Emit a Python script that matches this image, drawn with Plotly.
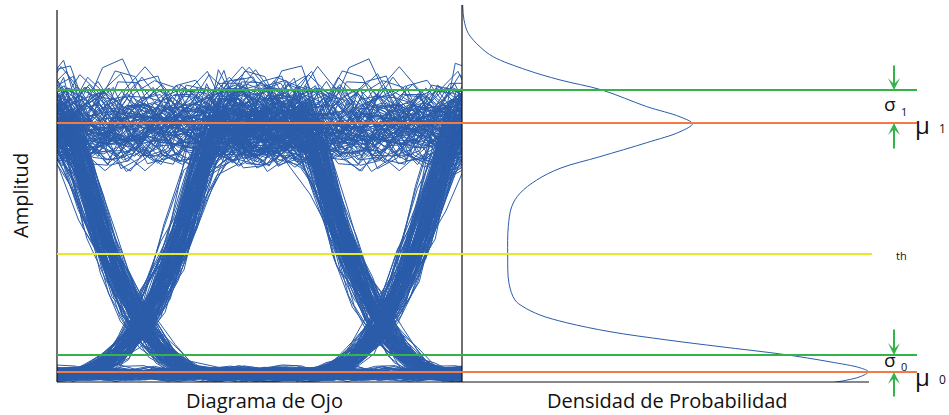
import numpy as np
import plotly.graph_objects as go

# ---------------------------------------------------------------------------
# Data
# ---------------------------------------------------------------------------
# Bit stream that is folded into the eye (one window per unit interval)
bit_stream = [1, 0, 1, 1, 0, 0, 1, 0, 1, 1, 1, 0, 0, 0, 1, 0,
              0, 1, 1, 0, 1, 0, 1, 1, 1, 1, 0, 0, 1, 0, 0, 0,
              1, 1, 0, 1, 1, 0, 0, 1, 0, 1, 0, 0, 1, 1, 1, 0,
              1, 0, 0, 1, 1, 0, 1, 1, 1, 0, 0, 0, 1, 1, 0, 1]

# Recorded amplitude-noise samples (unit variance), two interleaved tables
noise_a = [0.42, 1.13, 0.87, -0.25, -1.61, -0.78, 0.05, 2.75, 0.66, -1.24,
           -0.51, -0.09, 3.05, 1.37, 0.33, -0.64, -0.98, -2.05, 0.17, 1.45,
           0.88, -0.71, 0.34, -1.58, -1.02, 0.26, 0.15, 1.83, -1.06, -0.59,
           -0.47, 0.72, 1.19, -2.44, -0.38, 0.91, 0.21]
noise_b = [-0.57, -1.34, 0.12, 0.83, 1.71, 0.29, -2.08, -0.95, 0.36, 0.61,
           -1.24, -1.57, 0.14, 0.68, -2.19, 0.76, 0.47, 0.03, 1.09, -1.46,
           -0.22, -0.81, 1.88, 0.27, -0.54, -1.03, 0.44, 3.20, 0.19, -0.93,
           -1.62, 0.35, 0.74, 1.21, -0.08, -0.69, -1.29, 0.11, 0.53, 1.47,
           -0.99]
# Recorded edge timing jitter (unit variance)
edge_jitter = [0.31, -0.84, 0.12, 1.06, -0.47, 0.73, -1.21, 0.05, 0.58, -0.26,
               -0.93, 1.38, -0.15, 0.44, -0.69, 0.88, -1.52, 0.21, 0.97]
# Sampling phase of each captured window (fraction of a sample period)
window_phase = [0.00, 0.55, 0.27, 0.81, 0.13, 0.68, 0.39, 0.94, 0.21, 0.62,
                0.05, 0.47, 0.88, 0.33, 0.74, 0.16, 0.59, 0.97, 0.42, 0.08,
                0.71, 0.29, 0.85]

# Decision statistics (normalised amplitude)
mu1 = 1.0
sigma1 = 0.1325
mu0 = 0.0
sigma0 = 0.068
threshold = 0.474

# Probability density of the received amplitude
density_amp = [1.474, 1.414, 1.360, 1.306, 1.266, 1.213, 1.173, 1.133, 1.066,
               1.025, 0.997, 0.965, 0.921, 0.865, 0.818, 0.771, 0.718, 0.664,
               0.584, 0.470, 0.356, 0.289, 0.262, 0.229, 0.198, 0.162, 0.129,
               0.102, 0.071, 0.041, 0.017, 0.001, -0.019, -0.041]
density_val = [0.007, 0.02, 0.063, 0.18, 0.313, 0.647, 0.98, 1.397, 1.847,
               2.18, 2.303, 2.18, 1.847, 1.38, 0.98, 0.747, 0.58, 0.497,
               0.463, 0.457, 0.47, 0.53, 0.613, 0.78, 1.047, 1.48, 2.047,
               2.58, 3.213, 3.68, 3.98, 4.063, 3.98, 3.73]

# Text
y_title = "Amplitud"
eye_title = "Diagrama de Ojo"
pdf_title = "Densidad de Probabilidad"

# ---------------------------------------------------------------------------
# Eye diagram: overlay of consecutive windows of the received waveform
# ---------------------------------------------------------------------------
SPU = 12          # samples per unit interval
N_WIN = 400       # number of overlaid windows
T_EDGE = 0.60     # edge duration (UI)
SIG_S = 0.056     # field noise scale
SIG_M = 0.020     # additive detector noise scale
SIG_J = 0.025     # timing jitter (UI)
EXPO = 2.3        # detector law

na = np.array(noise_a)
nb = np.array(noise_b)
nj = np.array(edge_jitter)
nbits = len(bit_stream)
k = np.arange(-6, 18)

# noise stream, lightly low-pass filtered (receiver bandwidth)
G0 = -10
G = np.arange(G0, N_WIN * SPU + 600)
z = (na[G % len(na)] + nb[G % len(nb)]) / np.sqrt(2)
zs = np.convolve(z, np.ones(3) / 3, mode="same")

eye_x, eye_y = [], []
for i in range(N_WIN):
    t = (k + window_phase[i % len(window_phase)]) / SPU
    b_prev = bit_stream[(i - 1) % nbits]
    b_cur = bit_stream[i % nbits]
    b_next = bit_stream[(i + 1) % nbits]
    j0 = nj[i % len(nj)] * SIG_J
    j1 = nj[(i + 1) % len(nj)] * SIG_J
    r0 = np.clip((t - j0 + T_EDGE / 2) / T_EDGE, 0, 1)
    r1 = np.clip((t - 1 - j1 + T_EDGE / 2) / T_EDGE, 0, 1)
    s = b_prev + (b_cur - b_prev) * r0 + (b_next - b_cur) * r1
    g = i * SPU + k - G0
    n = zs[g] * SIG_S
    m = zs[g + 500] * SIG_M
    v = np.abs(s + n) ** EXPO - 0.01 + m
    eye_x.extend(t.tolist() + [None])
    eye_y.extend(v.tolist() + [None])

BLUE = "#2a5caa"
GREEN = "#33b34a"
ORANGE = "#f47a44"
YELLOW = "#e3ea2a"
FONT = "Open Sans"

fig = go.Figure()
fig.add_trace(go.Scatter(x=eye_x, y=eye_y, mode="lines",
                         line=dict(color=BLUE, width=1), hoverinfo="skip",
                         xaxis="x", yaxis="y"))
fig.add_trace(go.Scatter(x=density_val, y=density_amp, mode="lines",
                         line=dict(color=BLUE, width=1, shape="spline"),
                         hoverinfo="skip", xaxis="x2", yaxis="y"))

# ---------------------------------------------------------------------------
# Layout geometry (pixels of the 949 x 415 canvas)
# ---------------------------------------------------------------------------
L, R, T, B = 57, 917, 5, 382
W, H = R - L, B - T
SPLIT = 462


def px(x):
    return (x - L) / W


def py(y):
    return (B - y) / H


shapes = []
# frame lines
shapes.append(dict(type="line", xref="paper", yref="paper", x0=0, x1=0,
                   y0=0, y1=py(10), line=dict(color="#111", width=1.2)))
shapes.append(dict(type="line", xref="paper", yref="paper", x0=px(SPLIT),
                   x1=px(SPLIT), y0=0, y1=1, line=dict(color="#111", width=1.2)))
shapes.append(dict(type="line", xref="paper", yref="paper", x0=0, x1=px(869),
                   y0=0, y1=0, line=dict(color="#111", width=1.2)))
# decision levels
for lvl, col, x_end in [(mu1 + sigma1, GREEN, 1), (mu1, ORANGE, 1),
                        (threshold, YELLOW, px(872)),
                        (mu0 + sigma0, GREEN, 1), (mu0, ORANGE, 1)]:
    shapes.append(dict(type="line", xref="paper", yref="y", x0=0, x1=x_end,
                       y0=lvl, y1=lvl, line=dict(color=col, width=2)))

annotations = []


def label(text, x, y, size, angle=0):
    annotations.append(dict(text=text, xref="paper", yref="paper", x=px(x),
                            y=py(y), xanchor="center", yanchor="middle",
                            showarrow=False, textangle=angle,
                            font=dict(family=FONT, size=size, color="#111")))


# axis titles
label(y_title, 21, 196, 20, -90)
label(eye_title, 264, 401, 20)
label(pdf_title, 667, 401, 20)

# level labels
label("σ", 890, 104, 19)
label("1", 904, 111, 11)
label("μ", 923, 124, 24)
label("1", 942, 128, 12)
label("th", 901, 256, 11)
label("σ", 890, 360, 19)
label("0", 904, 366, 11)
label("μ", 923, 376, 24)
label("0", 942, 379, 12)

# sigma arrows
ARROW_X = px(894)
for tip, off in [(mu1 + sigma1, -26), (mu1, 27), (mu0 + sigma0, -27), (mu0, 26)]:
    annotations.append(dict(text="", xref="paper", yref="y", x=ARROW_X, y=tip,
                            ax=0, ay=off, showarrow=True, arrowhead=3,
                            arrowsize=1.0, arrowwidth=2, arrowcolor=GREEN,
                            standoff=0))

fig.update_layout(
    width=949, height=415,
    margin=dict(l=L, r=949 - R, t=T, b=415 - B),
    paper_bgcolor="white", plot_bgcolor="white",
    showlegend=False,
    xaxis=dict(domain=[0, px(SPLIT)], range=[-0.35, 1.34], visible=False),
    xaxis2=dict(domain=[px(SPLIT), 1], range=[0, 4.55], visible=False,
                anchor="y"),
    yaxis=dict(range=[-0.04, 1.474], visible=False),
    shapes=shapes,
    annotations=annotations,
)

fig.write_html("out.html")
